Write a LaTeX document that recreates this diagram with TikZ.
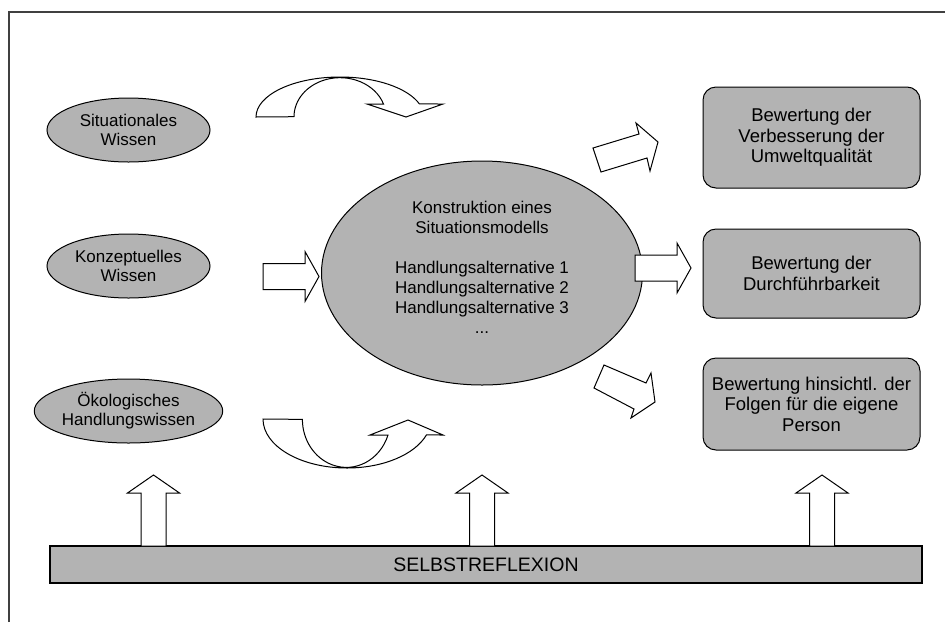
\documentclass[tikz,border=0pt]{standalone}
\usepackage{fontspec}
\setmainfont{Liberation Sans}
\usetikzlibrary{shapes.geometric}
\definecolor{shade}{RGB}{179,179,179}
\definecolor{framecol}{RGB}{64,64,64}
\begin{document}
\begin{tikzpicture}[x=1pt,y=-1pt,
  ell/.style={ellipse, draw=black, fill=shade, line width=1, minimum width=163, minimum height=64, inner sep=0, align=center, font=\fontsize{17}{19}\selectfont},
  bigell/.style={ellipse, draw=black, fill=shade, line width=1, minimum width=321, minimum height=224, inner sep=0},
  bigtxt/.style={align=center, inner sep=0, font=\fontsize{17}{20}\selectfont},
  evalbox/.style={rectangle, rounded corners=13, draw=black, fill=shade, line width=1, minimum width=217, inner sep=0, align=center, font=\fontsize{18.5}{20.5}\selectfont},
  barbox/.style={rectangle, draw=black, fill=shade, line width=1.5, minimum width=872, minimum height=37, inner sep=0, font=\fontsize{19.5}{20}\selectfont},
  barrow/.style={draw=black, fill=white, line width=1, line join=miter},
  uparrow/.pic={\draw[barrow] (-12.5,0) -- (-12.5,-53) -- (-26,-53) -- (0,-71) -- (26,-53) -- (12.5,-53) -- (12.5,0) -- cycle;},
  rarrow/.pic={\draw[barrow] (0,-13) -- (42,-13) -- (42,-25) -- (56,0) -- (42,25) -- (42,13) -- (0,13) -- cycle;}
]
\useasboundingbox (0,0) rectangle (945,622);
\fill[white] (0,0) rectangle (945,622);
% frame
\draw[framecol, line width=2] (9,622) -- (9,12) -- (945,12);

% left ellipses
\node[ell] (E1) at (128.5,130) {Situationales\\Wissen};
\node[ell] (E2) at (128.5,266) {Konzeptuelles\\Wissen};
\node[ell] (E3) at (128.5,411) {Ökologisches\\Handlungswissen};

% central ellipse
\node[bigell] (K) at (482,273) {};
\node[bigtxt] (Kt) at (482,267) {Konstruktion eines\\Situationsmodells\\[20pt]Handlungsalternative 1\\Handlungsalternative 2\\Handlungsalternative 3\\...};

% evaluation boxes
\node[evalbox, minimum height=101] (B1) at (811.5,137.5) {Bewertung der\\Verbesserung der\\Umweltqualität};
\node[evalbox, minimum height=89] (B2) at (811.5,273.5) {Bewertung der\\Durchführbarkeit};
\node[evalbox, minimum height=92] (B3) at (811.5,404) {Bewertung hinsichtl. der\\Folgen für die eigene\\Person};

% bar
\node[barbox] (S) at (486,564.5) {SELBSTREFLEXION};

% up arrows
\path (153.5,546) pic {uparrow};
\path (482,546) pic {uparrow};
\path (822,546) pic {uparrow};

% horizontal arrows
\path (263,276.5) pic {rarrow};
\path (635,268) pic {rarrow};

% diagonal arrows
\draw[barrow] (593,148) -- (639,134) -- (636,123) -- (658,142) -- (650,171) -- (647,158) -- (601,172) -- cycle;
\draw[barrow] (604,365) -- (646,383) -- (651,373) -- (655,402) -- (631,418) -- (634,409) -- (594,388) -- cycle;

% curved arrow (top)
\draw[barrow] (256,117) arc[start angle=180, end angle=341, x radius=84, y radius=40]
  -- (443,104) -- (406,117) -- (367,104) -- (383.5,104)
  arc[start angle=341, end angle=180, x radius=46, y radius=39] -- cycle;

% curved arrow (bottom)
\draw[barrow] (263,419) arc[start angle=180, end angle=19, x radius=84, y radius=49]
  -- (443,435) -- (408,420) -- (370,435) -- (388,435)
  arc[start angle=19, end angle=180, x radius=44, y radius=48] -- cycle;
\end{tikzpicture}
\end{document}
